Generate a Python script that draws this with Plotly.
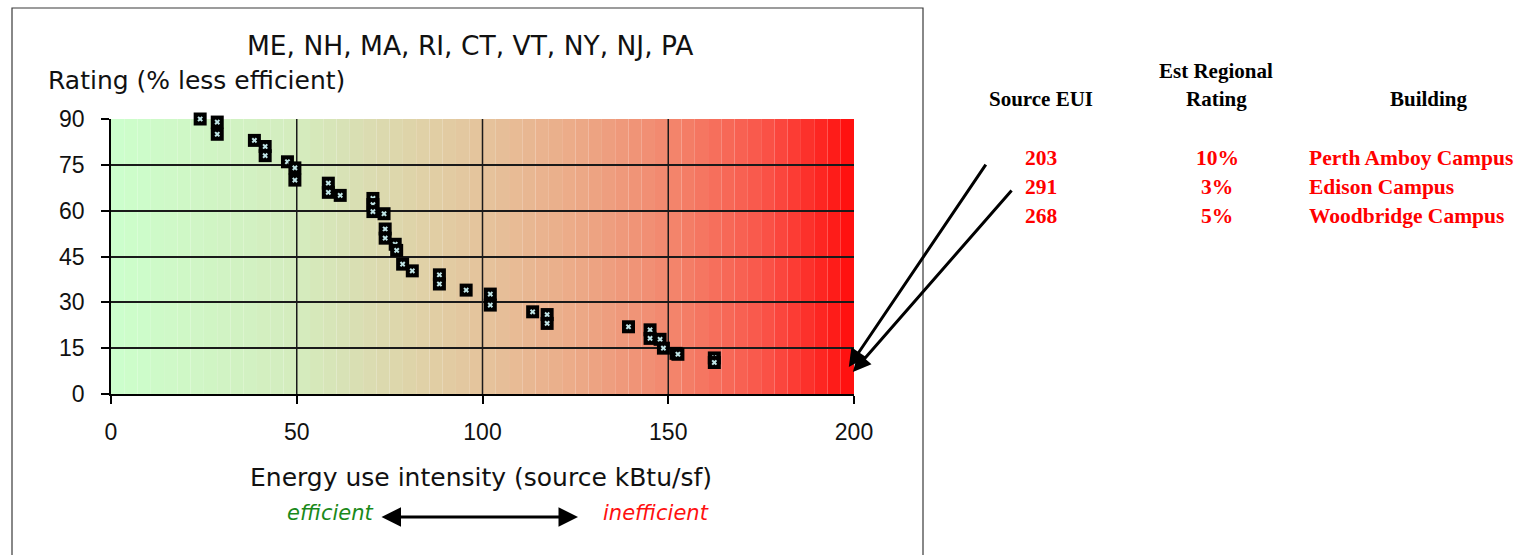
import numpy as np
import plotly.graph_objects as go

# Peer buildings: source EUI (kBtu/sf) vs. rating (% less efficient)
eui = [24, 28.6, 28.6, 38.6, 41.5, 41.5, 47.5, 49.5, 49.5, 58.5, 58.5, 61.7,
       70.5, 70.5, 70.5, 73.5, 73.8, 73.8, 76.5, 76.9, 78.5, 81.1, 88.4, 88.4,
       95.6, 102.1, 102.1, 113.5, 117.4, 117.4, 139.3, 145.1, 145.1, 147.8,
       148.7, 152.1, 152.6, 162.4, 162.4]
rating = [90, 89, 85, 83, 81, 78, 76, 74, 70, 69, 66, 65,
          64, 62, 59.7, 59, 54, 51, 49, 47, 42.5, 40.3, 39, 36,
          34, 32.7, 29.1, 26.9, 26, 23.1, 22, 21, 18.2, 17.9,
          15, 13.3, 13, 11.8, 10.3]

x_ticks = [0, 50, 100, 150, 200]
y_ticks = [0, 15, 30, 45, 60, 75, 90]

# Campus table
source_eui = ["203", "291", "268"]
est_rating = ["10%", "3%", "5%"]
buildings = ["Perth Amboy Campus", "Edison Campus", "Woodbridge Campus"]

# Plot-area geometry in pixels (figure is 1514 x 555)
W, H = 1514, 555
L, R, T, B = 111, 854, 119, 394


def px(xp):
    return (xp - L) / (R - L)


def py(yp):
    return (B - yp) / (B - T)


fig = go.Figure()

# Each point is a black square with a small light "x" on it; squares and
# glyphs are interleaved so later points overlap earlier ones.
mx, my, msym, msize, mcol = [], [], [], [], []
for xv, yv in zip(eui, rating):
    mx += [xv, xv]
    my += [yv, yv]
    msym += ["square", "x"]
    msize += [13, 5]
    mcol += ["black", "#bfe4e6"]

fig.add_trace(go.Scatter(
    x=mx, y=my, mode="markers", cliponaxis=False, hoverinfo="skip",
    marker=dict(symbol=msym, size=msize, color=mcol, opacity=1,
                line=dict(width=0)),
))

# Green-to-red banded background (efficient -> inefficient)
stops = np.array([0.0, 0.25, 0.5, 0.625, 0.75, 0.875, 1.0])
cols = np.array([
    [204, 255, 204],
    [212, 236, 190],
    [229, 196, 156],
    [236, 170, 136],
    [242, 136, 110],
    [250, 86, 74],
    [255, 12, 12],
])
n_bands = 56
shapes = []
edges = np.linspace(0, 200, n_bands + 1)
for i in range(n_bands):
    t = (i + 0.5) / n_bands
    c = [int(round(np.interp(t, stops, cols[:, k]))) for k in range(3)]
    shapes.append(dict(type="rect", xref="x", yref="y", layer="below",
                       x0=edges[i], x1=edges[i + 1], y0=0, y1=90,
                       line=dict(width=0), fillcolor=f"rgb({c[0]},{c[1]},{c[2]})"))

# Interior vertical gridlines
for gx in x_ticks[1:-1]:
    shapes.append(dict(type="line", xref="x", yref="y", layer="below",
                       x0=gx, x1=gx, y0=0, y1=90,
                       line=dict(color="#1a1a1a", width=1.5)))

# Chart frame
shapes.append(dict(type="rect", xref="paper", yref="paper", layer="below",
                   x0=px(12), x1=px(923), y0=py(565), y1=py(8),
                   line=dict(color="#3a3a3a", width=1.2), fillcolor="rgba(0,0,0,0)"))

sans = "DejaVu Sans"
serif = "Liberation Serif"

annotations = [
    dict(text="ME, NH, MA, RI, CT, VT, NY, NJ, PA", xref="paper", yref="paper",
         x=px(470), y=py(45), showarrow=False, xanchor="center", yanchor="middle",
         font=dict(family=sans, size=26.5, color="#111")),
    dict(text="Rating (% less efficient)", xref="paper", yref="paper",
         x=px(46), y=py(80), showarrow=False, xanchor="left", yanchor="middle",
         font=dict(family=sans, size=25, color="#111")),
    dict(text="Energy use intensity (source kBtu/sf)", xref="paper", yref="paper",
         x=px(481), y=py(477), showarrow=False, xanchor="center", yanchor="middle",
         font=dict(family=sans, size=25, color="#111")),
    dict(text="<i>efficient</i>", xref="paper", yref="paper",
         x=px(376), y=py(513), showarrow=False, xanchor="right", yanchor="middle",
         font=dict(family=sans, size=21, color="#1a8a1a")),
    dict(text="<i>inefficient</i>", xref="paper", yref="paper",
         x=px(601), y=py(513), showarrow=False, xanchor="left", yanchor="middle",
         font=dict(family=sans, size=21, color="#ff1010")),
    # double-headed efficiency arrow
    dict(text="", xref="paper", yref="paper", x=px(578), y=py(517),
         ax=-198, ay=0, showarrow=True, arrowside="end+start",
         arrowhead=2, arrowsize=1.3, arrowwidth=3, arrowcolor="black"),
    # arrows pointing into the high-EUI corner
    dict(text="", xref="x", yref="y", x=198.6, y=8.8, ax=138, ay=-204,
         showarrow=True, arrowhead=2, arrowsize=1.2, arrowwidth=3, arrowcolor="black"),
    dict(text="", xref="x", yref="y", x=199.7, y=7.2, ax=160, ay=-183,
         showarrow=True, arrowhead=2, arrowsize=1.2, arrowwidth=3, arrowcolor="black"),
]

# Table headers
hdr_font = dict(family=serif, size=21, color="black")
for txt, xc, yc in [("<b>Est Regional</b>", 1216, 71), ("<b>Source EUI</b>", 1041, 99),
                    ("<b>Rating</b>", 1216, 99), ("<b>Building</b>", 1429, 99)]:
    annotations.append(dict(text=txt, xref="paper", yref="paper", x=px(xc), y=py(yc),
                            showarrow=False, xanchor="center", yanchor="middle",
                            font=hdr_font))

row_font = dict(family=serif, size=21.5, color="#ff0000")
row_y = [158, 187, 216]
for eu, rt, bd, yc in zip(source_eui, est_rating, buildings, row_y):
    annotations.append(dict(text=f"<b>{eu}</b>", xref="paper", yref="paper",
                            x=px(1041), y=py(yc), showarrow=False,
                            xanchor="center", yanchor="middle", font=row_font))
    annotations.append(dict(text=f"<b>{rt}</b>", xref="paper", yref="paper",
                            x=px(1217), y=py(yc), showarrow=False,
                            xanchor="center", yanchor="middle", font=row_font))
    annotations.append(dict(text=f"<b>{bd}</b>", xref="paper", yref="paper",
                            x=px(1307), y=py(yc), showarrow=False,
                            xanchor="left", yanchor="middle", font=row_font))

tick_font = dict(family="Liberation Sans", size=23, color="#111")

fig.update_layout(
    width=W, height=H,
    margin=dict(l=L, r=W - R, t=T, b=H - B, pad=0),
    paper_bgcolor="white", plot_bgcolor="white",
    showlegend=False,
    shapes=shapes,
    annotations=annotations,
    xaxis=dict(range=[0, 200], tickvals=x_ticks, showgrid=False, zeroline=False,
               showline=True, linecolor="black", linewidth=1.5,
               ticks="outside", ticklen=8, tickwidth=1.5, tickcolor="black",
               ticklabelstandoff=9, tickfont=tick_font),
    yaxis=dict(range=[0, 90], tickvals=y_ticks, showgrid=True, gridcolor="#1a1a1a",
               gridwidth=1.5, zeroline=False,
               showline=True, linecolor="black", linewidth=1.5,
               ticks="outside", ticklen=8, tickwidth=1.5, tickcolor="black",
               ticklabelstandoff=12, tickfont=tick_font),
)

fig.write_html("out.html")
